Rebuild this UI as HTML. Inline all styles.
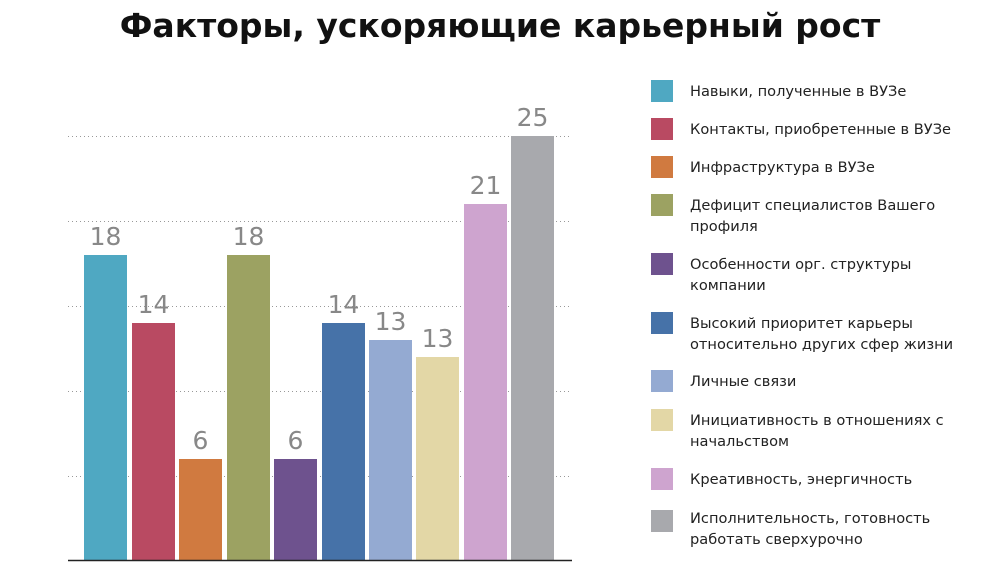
<!DOCTYPE html>
<html><head><meta charset="utf-8"><style>
body{margin:0;background:#fff;}
svg text{font-family:"DejaVu Sans","Liberation Sans",sans-serif;}
</style></head><body>
<svg width="1000" height="579" xmlns="http://www.w3.org/2000/svg">
<text x="500" y="37" text-anchor="middle" font-size="33" font-weight="bold" fill="#111">Факторы, ускоряющие карьерный рост</text>
<g stroke="#999" stroke-width="1" stroke-dasharray="1,3">
<line x1="68" y1="136.5" x2="572" y2="136.5"/>
<line x1="68" y1="221.5" x2="572" y2="221.5"/>
<line x1="68" y1="306.5" x2="572" y2="306.5"/>
<line x1="68" y1="391.5" x2="572" y2="391.5"/>
<line x1="68" y1="476.5" x2="572" y2="476.5"/>
</g>
<g>
<rect x="84" y="255" width="43" height="305" fill="#4fa8c2"/>
<rect x="132" y="323" width="43" height="237" fill="#b94a62"/>
<rect x="179" y="459" width="43" height="101" fill="#d07a40"/>
<rect x="227" y="255" width="43" height="305" fill="#9ca262"/>
<rect x="274" y="459" width="43" height="101" fill="#6e528e"/>
<rect x="322" y="323" width="43" height="237" fill="#4672a8"/>
<rect x="369" y="340" width="43" height="220" fill="#94aad2"/>
<rect x="416" y="357" width="43" height="203" fill="#e3d7a6"/>
<rect x="464" y="204" width="43" height="356" fill="#cea4cf"/>
<rect x="511" y="136" width="43" height="424" fill="#a8a9ad"/>
</g>
<g font-size="25" fill="#888" text-anchor="middle">
<text x="105.5" y="245">18</text>
<text x="153.5" y="313">14</text>
<text x="200.5" y="449">6</text>
<text x="248.5" y="245">18</text>
<text x="295.5" y="449">6</text>
<text x="343.5" y="313">14</text>
<text x="390.5" y="330">13</text>
<text x="437.5" y="347">13</text>
<text x="485.5" y="194">21</text>
<text x="532.5" y="126">25</text>
</g>
<line x1="68" y1="560.5" x2="572" y2="560.5" stroke="#222" stroke-width="1.5"/>
<g font-size="14.6" fill="#222">
<rect x="651" y="80" width="22" height="22" fill="#4fa8c2"/><text x="690" y="96">Навыки, полученные в ВУЗе</text>
<rect x="651" y="118" width="22" height="22" fill="#b94a62"/><text x="690" y="134">Контакты, приобретенные в ВУЗе</text>
<rect x="651" y="156" width="22" height="22" fill="#d07a40"/><text x="690" y="172">Инфраструктура в ВУЗе</text>
<rect x="651" y="194" width="22" height="22" fill="#9ca262"/><text x="690" y="210">Дефицит специалистов Вашего</text><text x="690" y="231">профиля</text>
<rect x="651" y="253" width="22" height="22" fill="#6e528e"/><text x="690" y="269">Особенности орг. структуры</text><text x="690" y="290">компании</text>
<rect x="651" y="312" width="22" height="22" fill="#4672a8"/><text x="690" y="328">Высокий приоритет карьеры</text><text x="690" y="349">относительно других сфер жизни</text>
<rect x="651" y="370" width="22" height="22" fill="#94aad2"/><text x="690" y="386">Личные связи</text>
<rect x="651" y="409" width="22" height="22" fill="#e3d7a6"/><text x="690" y="425">Инициативность в отношениях с</text><text x="690" y="446">начальством</text>
<rect x="651" y="468" width="22" height="22" fill="#cea4cf"/><text x="690" y="484">Креативность, энергичность</text>
<rect x="651" y="510" width="22" height="22" fill="#a8a9ad"/><text x="690" y="523">Исполнительность, готовность</text><text x="690" y="544">работать сверхурочно</text>
</g>
</svg>
</body></html>
